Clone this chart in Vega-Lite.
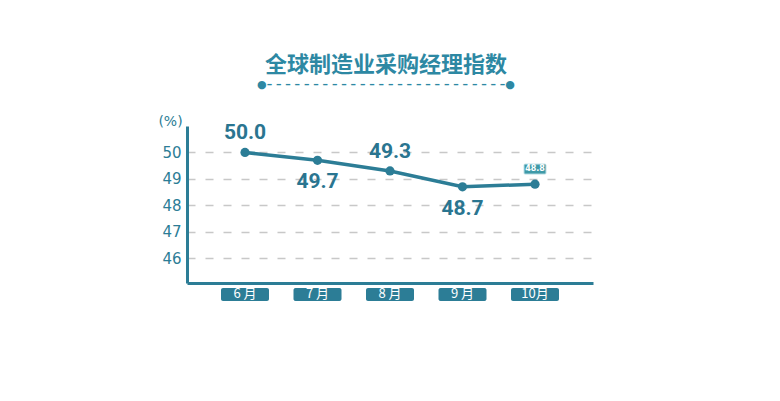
{
  "$schema": "https://vega.github.io/schema/vega-lite/v6.json",
  "width": 406,
  "height": 157,
  "autosize": {"type": "none"},
  "padding": {"left": 187, "top": 126, "right": 187, "bottom": 118},
  "background": "white",
  "config": {"view": {"stroke": null}, "font": "Noto Sans CJK SC"},
  "title": {
    "text": "全球制造业采购经理指数",
    "subtitle": "●– – – – – – – – – – – – – – – – – – – – – – – – – –●",
    "anchor": "middle",
    "frame": "group",
    "dx": -4,
    "offset": 23,
    "font": "Noto Sans CJK SC",
    "fontSize": 22,
    "fontWeight": "bold",
    "color": "#2d88a3",
    "subtitleFont": "DejaVu Sans",
    "subtitleFontSize": 11,
    "subtitleFontWeight": "bold",
    "subtitleColor": "#2d88a3",
    "subtitlePadding": 2
  },
  "data": {
    "values": [
      {"month": "6月", "tag": "6  月", "value": 50.0, "label": "50.0"},
      {"month": "7月", "tag": "7  月", "value": 49.7, "label": "49.7"},
      {"month": "8月", "tag": "8  月", "value": 49.3, "label": "49.3"},
      {"month": "9月", "tag": "9  月", "value": 48.7, "label": "48.7"},
      {"month": "10月", "tag": "10月", "value": 48.8, "label": "48.8"}
    ]
  },
  "encoding": {
    "x": {
      "field": "month",
      "type": "ordinal",
      "sort": null,
      "scale": {"type": "point", "padding": 0.8},
      "axis": {
        "title": null,
        "labels": false,
        "ticks": false,
        "grid": false,
        "domainColor": "#2c7d96",
        "domainWidth": 3
      }
    },
    "y": {
      "field": "value",
      "type": "quantitative",
      "scale": {"domain": [45.06, 51], "nice": false, "zero": false},
      "axis": {
        "values": [46, 47, 48, 49, 50],
        "labelOverlap": false,
        "title": "(%)",
        "titleAngle": 0,
        "titleX": -17,
        "titleY": -5,
        "titleAlign": "center",
        "titleBaseline": "middle",
        "titleFont": "DejaVu Sans",
        "titleFontSize": 14,
        "titleFontWeight": "normal",
        "titleColor": "#2c7d96",
        "labelFont": "DejaVu Sans",
        "labelFontSize": 15,
        "labelColor": "#2c7d96",
        "labelPadding": 6,
        "ticks": false,
        "domainColor": "#2c7d96",
        "domainWidth": 3,
        "grid": true,
        "gridColor": "#c8c8c8",
        "gridWidth": 1.5,
        "gridDash": [8, 10]
      }
    }
  },
  "layer": [
    {
      "mark": {
        "type": "line",
        "color": "#2c7d96",
        "strokeWidth": 3.5,
        "point": {"filled": true, "size": 85, "color": "#2c7d96", "opacity": 1}
      }
    },
    {
      "transform": [{"filter": {"field": "month", "oneOf": ["6月", "8月"]}}],
      "mark": {"type": "text", "dy": -19, "font": "Roboto", "fontSize": 21, "fontWeight": "bold", "color": "#2a7590"},
      "encoding": {"text": {"field": "label"}}
    },
    {
      "transform": [{"filter": {"field": "month", "oneOf": ["7月", "9月"]}}],
      "mark": {"type": "text", "dy": 22, "font": "Roboto", "fontSize": 21, "fontWeight": "bold", "color": "#2a7590"},
      "encoding": {"text": {"field": "label"}}
    },
    {
      "transform": [{"filter": {"field": "month", "equal": "10月"}}],
      "mark": {"type": "rect", "width": 22, "height": 10, "color": "#3f9aa8", "stroke": "#bfe0e6", "strokeWidth": 1, "cornerRadius": 1},
      "encoding": {"y": {"datum": 49.37, "type": "quantitative", "axis": {
        "values": [46, 47, 48, 49, 50],
        "labelOverlap": false,
        "title": "(%)",
        "titleAngle": 0,
        "titleX": -17,
        "titleY": -5,
        "titleAlign": "center",
        "titleBaseline": "middle",
        "titleFont": "DejaVu Sans",
        "titleFontSize": 14,
        "titleFontWeight": "normal",
        "titleColor": "#2c7d96",
        "labelFont": "DejaVu Sans",
        "labelFontSize": 15,
        "labelColor": "#2c7d96",
        "labelPadding": 6,
        "ticks": false,
        "domainColor": "#2c7d96",
        "domainWidth": 3,
        "grid": true,
        "gridColor": "#c8c8c8",
        "gridWidth": 1.5,
        "gridDash": [8, 10]
      }}}
    },
    {
      "transform": [{"filter": {"field": "month", "equal": "10月"}}],
      "mark": {"type": "text", "font": "DejaVu Sans", "fontSize": 8, "fontWeight": "bold", "color": "white"},
      "encoding": {
        "y": {"datum": 49.37, "type": "quantitative", "axis": {
        "values": [46, 47, 48, 49, 50],
        "labelOverlap": false,
        "title": "(%)",
        "titleAngle": 0,
        "titleX": -17,
        "titleY": -5,
        "titleAlign": "center",
        "titleBaseline": "middle",
        "titleFont": "DejaVu Sans",
        "titleFontSize": 14,
        "titleFontWeight": "normal",
        "titleColor": "#2c7d96",
        "labelFont": "DejaVu Sans",
        "labelFontSize": 15,
        "labelColor": "#2c7d96",
        "labelPadding": 6,
        "ticks": false,
        "domainColor": "#2c7d96",
        "domainWidth": 3,
        "grid": true,
        "gridColor": "#c8c8c8",
        "gridWidth": 1.5,
        "gridDash": [8, 10]
      }},
        "text": {"field": "label"}
      }
    },
    {
      "mark": {"type": "rect", "width": 48, "height": 13, "color": "#2c7d96", "cornerRadius": 2},
      "encoding": {"y": {"datum": 44.625, "type": "quantitative", "axis": {
        "values": [46, 47, 48, 49, 50],
        "labelOverlap": false,
        "title": "(%)",
        "titleAngle": 0,
        "titleX": -17,
        "titleY": -5,
        "titleAlign": "center",
        "titleBaseline": "middle",
        "titleFont": "DejaVu Sans",
        "titleFontSize": 14,
        "titleFontWeight": "normal",
        "titleColor": "#2c7d96",
        "labelFont": "DejaVu Sans",
        "labelFontSize": 15,
        "labelColor": "#2c7d96",
        "labelPadding": 6,
        "ticks": false,
        "domainColor": "#2c7d96",
        "domainWidth": 3,
        "grid": true,
        "gridColor": "#c8c8c8",
        "gridWidth": 1.5,
        "gridDash": [8, 10]
      }}}
    },
    {
      "mark": {"type": "text", "font": "Noto Sans CJK SC", "fontSize": 13, "fontWeight": "normal", "color": "white"},
      "encoding": {
        "y": {"datum": 44.625, "type": "quantitative", "axis": {
        "values": [46, 47, 48, 49, 50],
        "labelOverlap": false,
        "title": "(%)",
        "titleAngle": 0,
        "titleX": -17,
        "titleY": -5,
        "titleAlign": "center",
        "titleBaseline": "middle",
        "titleFont": "DejaVu Sans",
        "titleFontSize": 14,
        "titleFontWeight": "normal",
        "titleColor": "#2c7d96",
        "labelFont": "DejaVu Sans",
        "labelFontSize": 15,
        "labelColor": "#2c7d96",
        "labelPadding": 6,
        "ticks": false,
        "domainColor": "#2c7d96",
        "domainWidth": 3,
        "grid": true,
        "gridColor": "#c8c8c8",
        "gridWidth": 1.5,
        "gridDash": [8, 10]
      }},
        "text": {"field": "tag"}
      }
    }
  ]
}
